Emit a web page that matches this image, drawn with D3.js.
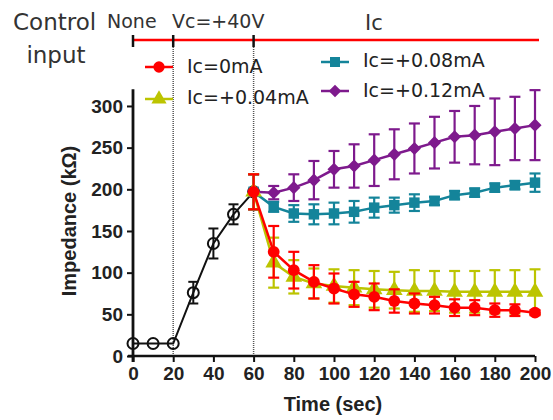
<!DOCTYPE html>
<html>
<head>
<meta charset="utf-8">
<script src="https://cdn.jsdelivr.net/npm/d3@7"></script>
<style>
  body { margin: 0; background: #fff; }
  svg { display: block; }
</style>
</head>
<body>
<svg id="chart" width="553" height="420"></svg>
<script>
// Time points (sec)
var timeBase = [0, 10, 20, 30, 40, 50, 60];
var timeIc = [60, 70, 80, 90, 100, 110, 120, 130, 140, 150, 160, 170, 180, 190, 200];

// Baseline (None / Vc=+40V) phase
var baseMean = [15, 15, 15, 76, 135, 170, 197];
var baseErr  = [0, 0, 0, 13, 18, 12, 21];

// Ic phase, one array per current
var ic0Mean   = [197, 125, 103, 89, 81, 74, 71, 66, 63, 61, 58, 58, 55, 55, 52];
var ic0Err    = [21, 31, 22, 20, 18, 15, 16, 14, 12, 10, 10, 9, 8, 7, 3];
var ic004Mean = [197, 112, 95, 87, 84, 82, 80, 79, 78, 78, 77, 77, 77, 77, 77];
var ic004Err  = [21, 30, 20, 18, 20, 21, 22, 22, 25, 24, 25, 25, 26, 26, 27];
var ic008Mean = [197, 179, 171, 170, 171, 173, 178, 181, 184, 186, 193, 196, 202, 205, 208];
var ic008Err  = [21, 6, 10, 12, 13, 13, 12, 9, 10, 5, 5, 5, 5, 5, 11];
var ic012Mean = [197, 196, 202, 211, 224, 228, 235, 242, 249, 256, 263, 265, 269, 273, 277];
var ic012Err  = [21, 8, 16, 23, 22, 26, 31, 30, 30, 31, 31, 35, 40, 38, 42];

var xTicks = [0, 20, 40, 60, 80, 100, 120, 140, 160, 180, 200];
var yTicks = [0, 50, 100, 150, 200, 250, 300];
var phaseMarks = [0, 20, 60];   // control input switch times

var seriesInfo = [
  { name: "Ic=+0.12mA", mean: ic012Mean, err: ic012Err, color: "#7e1a8d", shape: d3.symbolDiamond2 },
  { name: "Ic=+0.08mA", mean: ic008Mean, err: ic008Err, color: "#14849a", shape: d3.symbolSquare },
  { name: "Ic=+0.04mA", mean: ic004Mean, err: ic004Err, color: "#bcc400", shape: d3.symbolTriangle },
  { name: "Ic=0mA",     mean: ic0Mean,   err: ic0Err,   color: "#ff0000", shape: d3.symbolCircle }
];

var svg = d3.select("#chart");
var x = d3.scaleLinear().domain([0, 200]).range([133, 535]);
var y = d3.scaleLinear().domain([0, 320]).range([356, 89.3]);

var tickFont = "'Liberation Sans', Arial, sans-serif";
var textFont = "'DejaVu Sans', Verdana, sans-serif";

/* ---------- control input bar ---------- */
svg.append("text").attr("x", 13).attr("y", 30).attr("font-family", textFont)
  .attr("font-size", 23).attr("fill", "#333").text("Control");
svg.append("text").attr("x", 56).attr("y", 63).attr("font-family", textFont)
  .attr("font-size", 23).attr("fill", "#333").attr("text-anchor", "middle").text("input");

svg.append("text").attr("x", 107).attr("y", 28).attr("font-family", textFont)
  .attr("font-size", 19).attr("fill", "#333").text("None");
svg.append("text").attr("x", 172).attr("y", 28).attr("font-family", textFont)
  .attr("font-size", 19).attr("fill", "#333").text("Vc=+40V");
svg.append("text").attr("x", 365).attr("y", 30).attr("font-family", textFont)
  .attr("font-size", 21).attr("fill", "#333").text("Ic");

svg.append("line")
  .attr("x1", x(0)).attr("x2", 539).attr("y1", 40).attr("y2", 40)
  .attr("stroke", "#ff0000").attr("stroke-width", 2.5);

svg.selectAll("line.phase")
  .data(phaseMarks).enter().append("line")
  .attr("class", "phase")
  .attr("x1", function(d) { return x(d); }).attr("x2", function(d) { return x(d); })
  .attr("y1", 35).attr("y2", 47)
  .attr("stroke", "#111").attr("stroke-width", 2.5);

// dotted guides at phase changes
svg.selectAll("line.guide")
  .data(phaseMarks.slice(1)).enter().append("line")
  .attr("class", "guide")
  .attr("x1", function(d) { return x(d); }).attr("x2", function(d) { return x(d); })
  .attr("y1", 47).attr("y2", y(0))
  .attr("stroke", "#555").attr("stroke-width", 1.5)
  .attr("stroke-dasharray", "1,1");

/* ---------- axes ---------- */
var xAxis = svg.append("g")
  .attr("transform", "translate(0," + y(0) + ")")
  .call(d3.axisBottom(x).tickValues(xTicks).tickSize(6).tickSizeOuter(0).tickPadding(5));
xAxis.select(".domain").attr("stroke", "#111").attr("stroke-width", 2.5)
  .attr("d", "M128,0H" + x(200));
xAxis.selectAll(".tick line").attr("stroke", "#111").attr("stroke-width", 2);
xAxis.selectAll(".tick text").attr("font-family", tickFont).attr("font-size", 19)
  .attr("font-weight", "bold").attr("fill", "#222");

var yAxis = svg.append("g")
  .attr("transform", "translate(" + x(0) + ",0)")
  .call(d3.axisLeft(y).tickValues(yTicks).tickSize(6).tickSizeOuter(0).tickPadding(4));
yAxis.select(".domain").attr("stroke", "#111").attr("stroke-width", 2.8)
  .attr("d", "M0," + (y(0) + 6) + "V" + y(320));
yAxis.selectAll(".tick line").attr("stroke", "#111").attr("stroke-width", 2);
yAxis.selectAll(".tick text").attr("font-family", tickFont).attr("font-size", 19)
  .attr("font-weight", "bold").attr("fill", "#222");

svg.append("text")
  .attr("transform", "translate(76," + 221 + ") rotate(-90)")
  .attr("text-anchor", "middle").attr("font-family", tickFont)
  .attr("font-size", 20).attr("font-weight", "bold").attr("fill", "#222")
  .text("Impedance (k\u03A9)");

svg.append("text")
  .attr("x", 333).attr("y", 411)
  .attr("text-anchor", "middle").attr("font-family", tickFont)
  .attr("font-size", 20).attr("font-weight", "bold").attr("fill", "#222")
  .text("Time (sec)");

/* ---------- series drawing ---------- */
function drawErrorBars(g, times, mean, err, color, cap, width) {
  var rows = times.map(function(t, i) { return { t: t, m: mean[i], e: err[i] }; })
    .filter(function(d) { return d.e > 0; });
  var eb = g.selectAll("g.eb").data(rows).enter().append("g")
    .attr("stroke", color).attr("stroke-width", width);
  eb.append("line")
    .attr("x1", function(d) { return x(d.t); }).attr("x2", function(d) { return x(d.t); })
    .attr("y1", function(d) { return y(d.m - d.e); }).attr("y2", function(d) { return y(d.m + d.e); });
  eb.append("line")
    .attr("x1", function(d) { return x(d.t) - cap; }).attr("x2", function(d) { return x(d.t) + cap; })
    .attr("y1", function(d) { return y(d.m + d.e); }).attr("y2", function(d) { return y(d.m + d.e); });
  eb.append("line")
    .attr("x1", function(d) { return x(d.t) - cap; }).attr("x2", function(d) { return x(d.t) + cap; })
    .attr("y1", function(d) { return y(d.m - d.e); }).attr("y2", function(d) { return y(d.m - d.e); });
}

var line = d3.line()
  .x(function(d) { return x(d[0]); })
  .y(function(d) { return y(d[1]); });

// baseline phase: black open circles
var gBase = svg.append("g");
drawErrorBars(gBase, timeBase, baseMean, baseErr, "#111", 5, 2);
gBase.append("path")
  .datum(timeBase.map(function(t, i) { return [t, baseMean[i]]; }))
  .attr("d", line).attr("fill", "none").attr("stroke", "#111").attr("stroke-width", 2);
gBase.selectAll("circle").data(timeBase).enter().append("circle")
  .attr("cx", function(d) { return x(d); })
  .attr("cy", function(d, i) { return y(baseMean[i]); })
  .attr("r", 5.5).attr("fill", "none").attr("stroke", "#111").attr("stroke-width", 2);

// Ic phase series
seriesInfo.forEach(function(s) {
  var g = svg.append("g");
  drawErrorBars(g, timeIc, s.mean, s.err, s.color, 5.5, 2.2);
  g.append("path")
    .datum(timeIc.map(function(t, i) { return [t, s.mean[i]]; }))
    .attr("d", line).attr("fill", "none").attr("stroke", s.color).attr("stroke-width", 2.5);
  var sym = d3.symbol().type(s.shape).size(s.shape === d3.symbolTriangle ? 120 : 110);
  g.selectAll("path.pt").data(timeIc).enter().append("path")
    .attr("class", "pt")
    .attr("transform", function(d, i) { return "translate(" + x(d) + "," + y(s.mean[i]) + ")"; })
    .attr("d", sym).attr("fill", s.color);
});

/* ---------- legend ---------- */
var legendItems = [
  { s: seriesInfo[3], mx: 159, my: 67,  ty: 73 },
  { s: seriesInfo[2], mx: 159, my: 99,  ty: 104 },
  { s: seriesInfo[1], mx: 335, my: 62,  ty: 67 },
  { s: seriesInfo[0], mx: 335, my: 91,  ty: 97 }
];
legendItems.forEach(function(d) {
  var g = svg.append("g");
  g.append("line").attr("x1", d.mx - 14).attr("x2", d.mx + 14)
    .attr("y1", d.my).attr("y2", d.my)
    .attr("stroke", d.s.color).attr("stroke-width", 2.5);
  g.append("path").attr("transform", "translate(" + d.mx + "," + d.my + ")")
    .attr("d", d3.symbol().type(d.s.shape).size(100)).attr("fill", d.s.color);
  g.append("text").attr("x", d.mx + 28).attr("y", d.ty)
    .attr("font-family", textFont).attr("font-size", 19).attr("fill", "#222")
    .text(d.s.name);
});
</script>
</body>
</html>
